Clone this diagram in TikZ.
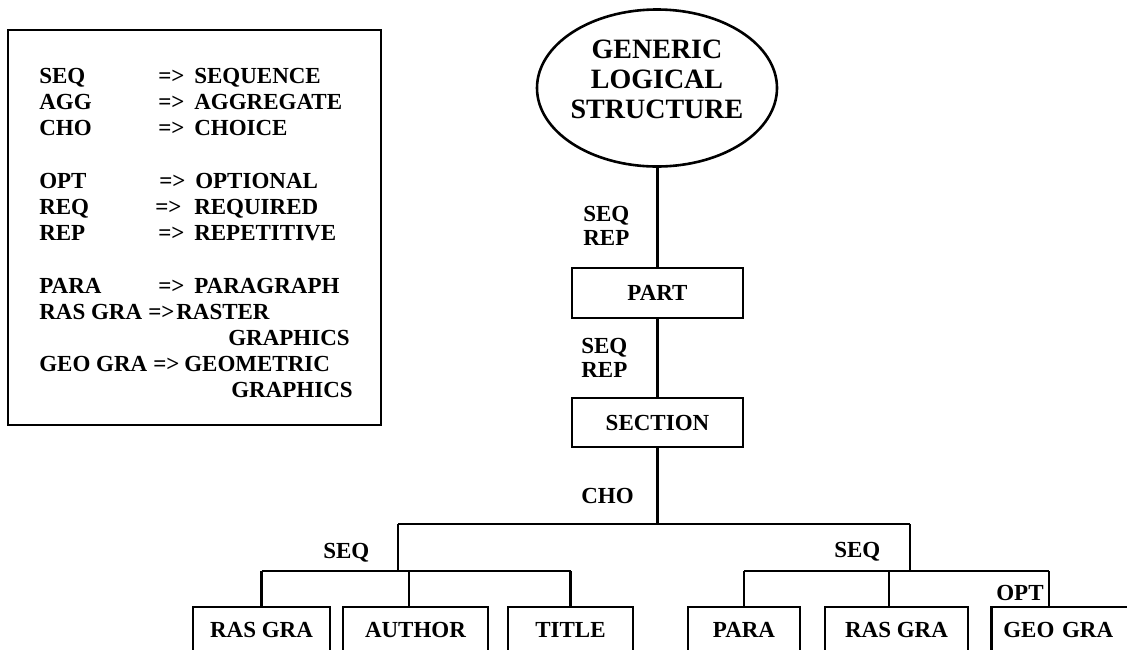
\documentclass[tikz,border=0pt]{standalone}
\usepackage{fontspec}
\setmainfont{Liberation Serif}
\usetikzlibrary{shapes.geometric}
\begin{document}
\begin{tikzpicture}[x=1pt,y=-1pt,line width=2.6pt,
  every node/.style={font=\fontsize{23}{26}\selectfont\bfseries,inner sep=0pt},
  txt/.style={anchor=base west},
  midbox/.style={draw,minimum height=50pt},
  leafbox/.style={draw,anchor=base,text height=30pt,text depth=40pt},
  wire/.style={line width=2.6pt}]
\useasboundingbox (0,0) rectangle (1127,649);
\clip (0,0) rectangle (1127,649);
\fill[white] (0,0) rectangle (1127,649);

% legend
\draw (8,30) rectangle (381,425);
\node[txt] (k1) at (38,83) {SEQ};
\node[txt] (a1) at (157,83) {=>};
\node[txt] (v1) at (193,83) {SEQUENCE};
\node[txt] (k2) at (38,109) {AGG};
\node[txt] (a2) at (157,109) {=>};
\node[txt] (v2) at (193,109) {AGGREGATE};
\node[txt] (k3) at (38,135) {CHO};
\node[txt] (a3) at (157,135) {=>};
\node[txt] (v3) at (193,135) {CHOICE};
\node[txt] (k4) at (38,188) {OPT};
\node[txt] (a4) at (158,188) {=>};
\node[txt] (v4) at (194,188) {OPTIONAL};
\node[txt] (k5) at (38,214) {REQ};
\node[txt] (a5) at (154,214) {=>};
\node[txt] (v5) at (193,214) {REQUIRED};
\node[txt] (k6) at (38,240) {REP};
\node[txt] (a6) at (157,240) {=>};
\node[txt] (v6) at (193,240) {REPETITIVE};
\node[txt] (k7) at (38,293) {PARA};
\node[txt] (a7) at (157,293) {=>};
\node[txt] (v7) at (193,293) {PARAGRAPH};
\node[txt] (k8) at (38,319) {RAS GRA};
\node[txt] (a8) at (147,319) {=>};
\node[txt] (v8) at (175,319) {RASTER};
\node[txt] (v8b) at (227,345) {GRAPHICS};
\node[txt] (k9) at (38,371) {GEO GRA};
\node[txt] (a9) at (152,371) {=>};
\node[txt] (v9) at (183,371) {GEOMETRIC};
\node[txt] (v9b) at (230,397) {GRAPHICS};

% root
\node[ellipse,draw,minimum width=240pt,minimum height=157pt] (glsl) at (657,88) {};
\node[align=center,font=\fontsize{28}{30}\selectfont\bfseries] (glsltext) at (657,79) {GENERIC\\LOGICAL\\STRUCTURE};

% intermediate boxes
\node[midbox,minimum width=171pt] (part) at (657.5,293) {PART};
\node[midbox,minimum width=171pt,minimum height=49pt] (sect) at (657.5,422.5) {SECTION};

% leaves
\node[leafbox,minimum width=137pt] (ras1) at (261.5,637) {RAS GRA};
\node[leafbox,minimum width=145pt] (author) at (415.5,637) {AUTHOR};
\node[leafbox,minimum width=125pt] (title) at (570.5,637) {TITLE};
\node[leafbox,minimum width=112pt] (para) at (744,637) {PARA};
\node[leafbox,minimum width=143pt] (ras2) at (896.5,637) {RAS GRA};
\node[leafbox,anchor=base west,text width=150pt,inner xsep=12pt,align=left] (geo) at (990,637) {GEO GRA};

% junctions
\coordinate (cho) at (657.5,524);
\coordinate (l1) at (398,524);
\coordinate (r1) at (910,524);
\coordinate (l2) at (398,571);
\coordinate (r2) at (910,571);
\coordinate (geoj) at (1049,571);
\coordinate (authj) at (409,571);

% connectors
\draw[wire] (glsl.south -| part.north) -- (part.north);
\draw[wire] (part.south) -- (sect.north);
\draw[wire] (sect.south) -- (cho);
\draw[wire] (l1) -- (r1);
\draw[wire] (l1) -- (l2);
\draw[wire] (r1) -- (r2);
\draw[wire] (ras1.north |- l2) -- (title.north |- l2);
\draw[wire] (para.north |- r2) -- (geoj);
\draw[wire] (ras1.north |- l2) -- (ras1.north);
\draw[wire] (authj) -- (authj |- author.north);
\draw[wire] (title.north |- l2) -- (title.north);
\draw[wire] (para.north |- r2) -- (para.north);
\draw[wire] (889,571) -- (889,607);
\draw[wire] (geoj) -- (geoj |- geo.north);

% connector labels
\node[txt] (lb1) at (582,221) {SEQ};
\node[txt] (lb2) at (582,245) {REP};
\node[txt] (lb3) at (580,353) {SEQ};
\node[txt] (lb4) at (580,377) {REP};
\node[txt] (lb5) at (580,503) {CHO};
\node[txt] (lb6) at (322,558) {SEQ};
\node[txt] (lb7) at (833,557) {SEQ};
\node[txt] (lb8) at (995,600) {OPT};
\end{tikzpicture}
\end{document}
